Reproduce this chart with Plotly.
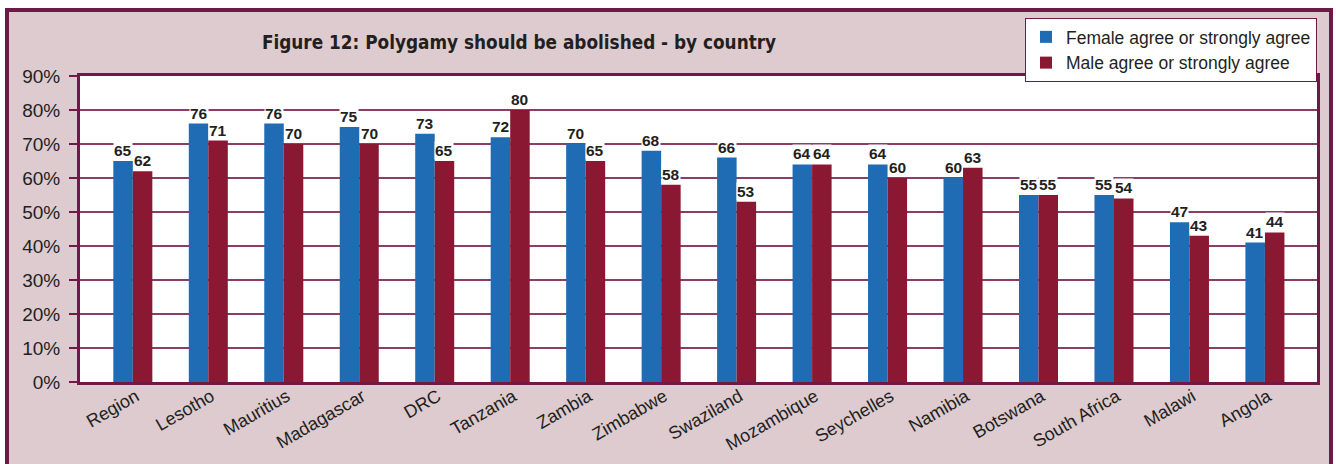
import plotly.graph_objects as go

countries = ["Region", "Lesotho", "Mauritius", "Madagascar", "DRC", "Tanzania", "Zambia",
             "Zimbabwe", "Swaziland", "Mozambique", "Seychelles", "Namibia", "Botswana",
             "South Africa", "Malawi", "Angola"]
female = [65, 76, 76, 75, 73, 72, 70, 68, 66, 64, 64, 60, 55, 55, 47, 41]
male = [62, 71, 70, 70, 65, 80, 65, 58, 53, 64, 60, 63, 55, 54, 43, 44]
y_ticks = list(range(0, 91, 10))

BLUE = "#1F6BB4"
MAROON = "#8B1832"
FRAME = "#6E1A48"
GRID = "#8A3D66"
PANEL = "#DDCBCF"
TEXT = "#231F20"

W, H = 1336, 464
ML, MR, MT, MB = 80, 19, 76, 82
PW, PH = W - ML - MR, H - MT - MB
BARGAP = 0.483
X_RANGE = [-0.70, len(countries) - 1 + 0.69]


def px_x(p):
    return (p - ML) / PW


def px_y(p):
    return (H - MB - p) / PH


fig = go.Figure()
fig.add_trace(go.Bar(name="Female agree or strongly agree", x=countries, y=female,
                     marker=dict(color=BLUE, line=dict(width=0))))
fig.add_trace(go.Bar(name="Male agree or strongly agree", x=countries, y=male,
                     marker=dict(color=MAROON, line=dict(width=0))))

# value labels above each bar, with a white backing over the gridlines
unit_px = PW / (X_RANGE[1] - X_RANGE[0])
half = unit_px * (1 - BARGAP) / 4
annotations = []
for c, f, m in zip(countries, female, male):
    for v, shift in ((f, -half), (m, half)):
        annotations.append(dict(
            x=c, y=v, xref="x", yref="y", text=str(v), showarrow=False,
            xshift=shift, yshift=1, yanchor="bottom", bgcolor="white", borderpad=0,
            font=dict(family="Liberation Sans, Arial", size=15.5, color=TEXT, weight="bold"),
        ))

shapes = [
    # outer framed panel
    dict(type="rect", xref="paper", yref="paper", layer="below",
         x0=px_x(7), x1=px_x(1331), y0=px_y(475), y1=px_y(10),
         fillcolor=PANEL, line=dict(color=FRAME, width=4)),
    # white plotting area
    dict(type="rect", xref="paper", yref="paper", layer="below",
         x0=0, x1=1, y0=0, y1=1, fillcolor="white", line=dict(width=0)),
]

fig.update_layout(
    width=W, height=H,
    margin=dict(l=ML, r=MR, t=MT, b=MB, autoexpand=False),
    paper_bgcolor="white", plot_bgcolor="rgba(0,0,0,0)",
    barmode="group", bargap=BARGAP, bargroupgap=0,
    font=dict(family="Liberation Sans, Arial", color=TEXT),
    title=dict(text="<b>Figure 12: Polygamy should be abolished - by country</b>",
               x=519 / W, xanchor="center", y=1 - 42 / H, yanchor="middle",
               font=dict(family="DejaVu Sans Condensed, Liberation Sans Narrow, Arial Narrow, Liberation Sans",
                         size=18.8, color=TEXT)),
    legend=dict(x=1.0, xanchor="right", y=px_y(18), yanchor="top",
                bgcolor="white", bordercolor=FRAME, borderwidth=1,
                font=dict(size=17.5, color=TEXT), tracegroupgap=0,
                itemwidth=30, itemclick=False, itemdoubleclick=False),
    showlegend=True,
    annotations=annotations,
    shapes=shapes,
    xaxis=dict(showgrid=False, tickangle=-30, tickfont=dict(size=18, color=TEXT),
               range=X_RANGE, automargin=False,
               showline=True, linecolor=FRAME, linewidth=3, mirror=True,
               ticks="", ticklabelshift=3, ticklabelstandoff=-6),
    yaxis=dict(range=[0, 90], tickvals=y_ticks, ticktext=[f"{t}%" for t in y_ticks],
               automargin=False,
               tickfont=dict(size=19, color=TEXT), showgrid=True, gridcolor=GRID,
               gridwidth=2, showline=True, linecolor=FRAME, linewidth=3, mirror=True,
               ticks="outside", ticklen=8, tickcolor=FRAME, tickwidth=2, zeroline=False,
               ticklabelstandoff=5),
)

fig.write_html("out.html")
